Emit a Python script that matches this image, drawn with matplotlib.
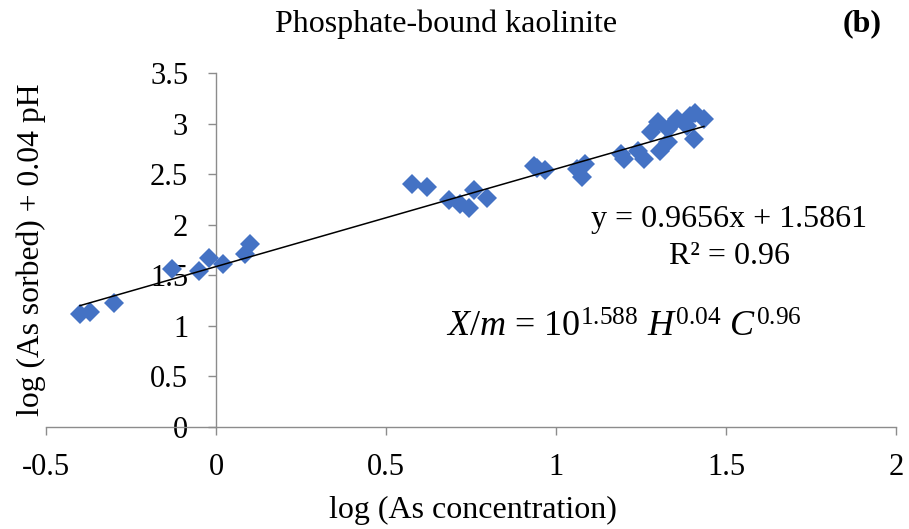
import matplotlib.pyplot as plt
from matplotlib.ticker import FuncFormatter

plt.rcParams['font.family'] = ['Liberation Serif', 'DejaVu Serif']
plt.rcParams['mathtext.fontset'] = 'custom'
plt.rcParams['mathtext.rm'] = 'Liberation Serif'
plt.rcParams['mathtext.it'] = 'Liberation Serif:italic'

# Data
log_conc = [-0.40, -0.37, -0.30, -0.13, -0.05, -0.02, 0.02, 0.085, 0.10,
            0.576, 0.62, 0.684, 0.719, 0.743, 0.758, 0.797,
            0.935, 0.944, 0.969,
            1.062, 1.076, 1.086,
            1.19, 1.20, 1.24, 1.26, 1.305, 1.33, 1.28, 1.30, 1.33,
            1.355, 1.385, 1.41, 1.435, 1.405, 1.395]
log_sorbed = [1.12, 1.14, 1.23, 1.56, 1.54, 1.67, 1.61, 1.71, 1.81,
              2.40, 2.37, 2.24, 2.20, 2.17, 2.34, 2.26,
              2.58, 2.56, 2.54,
              2.55, 2.47, 2.60,
              2.70, 2.65, 2.73, 2.65, 2.73, 2.82, 2.92, 3.02, 2.95,
              3.05, 2.98, 3.10, 3.05, 2.85, 3.07]

# Trend line from the equation shown on the chart
slope = 0.9656
intercept = 1.5861

xticks = [-0.5, 0, 0.5, 1, 1.5, 2]
yticks = [0, 0.5, 1, 1.5, 2, 2.5, 3, 3.5]

fig = plt.figure(figsize=(9.09, 5.29), dpi=100)
ax = fig.add_axes([0.0506, 0.1928, 0.9351, 0.6692])

ax.plot(log_conc, log_sorbed, linestyle='none', marker='D', markersize=10.5,
        color='#4472C4', markeredgewidth=0, zorder=3)

x0, x1 = min(log_conc), max(log_conc)
ax.plot([x0, x1], [slope * x0 + intercept, slope * x1 + intercept],
        color='black', linewidth=1.1, zorder=4)

ax.set_xlim(-0.5, 2)
ax.set_ylim(0, 3.5)
ax.set_xticks(xticks)
ax.set_yticks(yticks)

fmt = FuncFormatter(lambda v, p: ('%g' % v).replace('\u2212', '-'))
ax.xaxis.set_major_formatter(fmt)
ax.yaxis.set_major_formatter(fmt)

ax.spines['left'].set_position(('data', 0))
ax.spines['top'].set_visible(False)
ax.spines['right'].set_visible(False)
for s in ['left', 'bottom']:
    ax.spines[s].set_color('#8c8c8c')
    ax.spines[s].set_linewidth(1.0)
ax.tick_params(axis='both', colors='#8c8c8c', length=6, width=1.0,
               labelsize=22, labelcolor='black')
ax.tick_params(axis='x', pad=13)
ax.tick_params(axis='y', pad=14)

fig.text(0.034, 0.527, 'log (As sorbed) + 0.04 pH', rotation=90,
         ha='center', va='center', fontsize=22.8)
fig.text(0.520, 0.036, 'log (As concentration)', ha='center', va='center', fontsize=23)
fig.text(0.491, 0.955, 'Phosphate-bound kaolinite', ha='center', va='center', fontsize=23)
fig.text(0.948, 0.955, '(b)', ha='center', va='center', fontsize=23, fontweight='bold')

ax.text(1.51, 2.05, 'y = 0.9656x + 1.5861', ha='center', va='center', fontsize=23)
ax.text(1.51, 1.69, 'R² = 0.96', ha='center', va='center', fontsize=23)
ax.text(1.20, 0.98,
        r'$\mathit{X/m}$ = 10$^{1.588}$ $\mathit{H}^{0.04}$ $\mathit{C}^{0.96}$',
        ha='center', va='center', fontsize=26)

fig.savefig('out.png', dpi=100)
